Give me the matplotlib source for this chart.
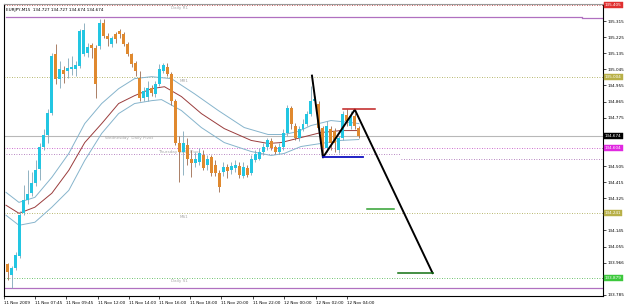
"""EURJPY M15 candle chart with pivot levels, MA envelope and drawn zigzag."""

import matplotlib
matplotlib.use("Agg")
import matplotlib.pyplot as plt
import numpy as np

font_size = 3.0
params = {
    "font.size": font_size,
    "font.family": "DejaVu Sans",
    "xtick.labelsize": font_size,
    "ytick.labelsize": font_size,
}
matplotlib.rcParams.update(params)

# Candles (bar index 0..88), prices
opens = [133.957, 133.896, 133.935, 134.002, 134.241, 134.314, 134.353, 134.408, 134.486, 134.609,
         134.681, 134.803, 135.132, 134.993, 135.043, 135.037, 135.048, 135.048, 135.065, 135.132,
         135.138, 135.182, 135.165, 135.176, 135.305, 135.232, 135.188, 135.243, 135.260, 135.243,
         135.188, 135.132, 135.082, 134.998, 134.887, 134.893, 134.943, 134.909, 134.965, 135.037,
         135.060, 135.021, 134.870, 134.631, 134.586, 134.620, 134.547, 134.520, 134.525, 134.564,
         134.508, 134.553, 134.508, 134.464, 134.469, 134.497, 134.481, 134.492, 134.503, 134.447,
         134.492, 134.464, 134.536, 134.547, 134.581, 134.614, 134.642, 134.609, 134.586, 134.609,
         134.687, 134.831, 134.731, 134.659, 134.714, 134.742, 134.798, 134.870, 134.854, 134.720,
         134.603, 134.709, 134.703, 134.592, 134.659, 134.792, 134.731, 134.787, 134.720]
highs = [133.963, 133.946, 134.024, 134.252, 134.397, 134.481, 134.469, 134.536, 134.631, 134.714,
         134.826, 135.138, 135.188, 135.093, 135.065, 135.110, 135.121, 135.093, 135.271, 135.305,
         135.193, 135.193, 135.182, 135.327, 135.327, 135.249, 135.232, 135.254, 135.271, 135.254,
         135.199, 135.138, 135.093, 135.037, 134.948, 134.982, 134.959, 134.982, 135.076, 135.082,
         135.082, 135.032, 134.881, 134.675, 134.703, 134.659, 134.592, 134.581, 134.603, 134.592,
         134.564, 134.564, 134.536, 134.481, 134.525, 134.514, 134.525, 134.536, 134.525, 134.525,
         134.508, 134.564, 134.592, 134.603, 134.631, 134.664, 134.659, 134.625, 134.631, 134.714,
         134.848, 134.842, 134.748, 134.731, 134.770, 134.815, 134.954, 134.898, 134.870, 134.731,
         134.759, 134.726, 134.720, 134.675, 134.815, 134.826, 134.815, 134.803, 134.731]
lows = [133.868, 133.824, 133.924, 133.991, 134.230, 134.291, 134.336, 134.392, 134.425, 134.592,
        134.636, 134.792, 134.965, 134.943, 134.971, 134.998, 135.015, 135.010, 135.054, 135.121,
        135.115, 135.110, 134.887, 135.160, 135.221, 135.176, 135.171, 135.193, 135.221, 135.176,
        135.121, 135.060, 135.010, 134.870, 134.870, 134.870, 134.898, 134.893, 134.954, 135.026,
        135.010, 134.848, 134.620, 134.414, 134.453, 134.508, 134.442, 134.497, 134.508, 134.481,
        134.481, 134.447, 134.447, 134.358, 134.447, 134.436, 134.458, 134.469, 134.436, 134.436,
        134.442, 134.453, 134.525, 134.536, 134.564, 134.592, 134.592, 134.570, 134.570, 134.592,
        134.675, 134.714, 134.648, 134.642, 134.698, 134.726, 134.787, 134.854, 134.709, 134.553,
        134.581, 134.592, 134.581, 134.575, 134.648, 134.731, 134.714, 134.714, 134.664]
closes = [133.913, 133.935, 134.007, 134.230, 134.314, 134.347, 134.408, 134.481, 134.609, 134.681,
          134.803, 135.121, 134.993, 135.048, 135.021, 135.054, 135.060, 135.071, 135.260, 135.266,
          135.171, 135.165, 134.965, 135.305, 135.232, 135.215, 135.221, 135.215, 135.243, 135.188,
          135.132, 135.076, 135.037, 134.887, 134.926, 134.943, 134.915, 134.965, 135.048, 135.071,
          135.021, 134.870, 134.631, 134.581, 134.631, 134.547, 134.520, 134.547, 134.575, 134.492,
          134.547, 134.464, 134.464, 134.386, 134.497, 134.475, 134.503, 134.508, 134.453, 134.497,
          134.453, 134.542, 134.570, 134.586, 134.614, 134.648, 134.603, 134.586, 134.609, 134.687,
          134.831, 134.737, 134.659, 134.714, 134.742, 134.798, 134.870, 134.881, 134.720, 134.603,
          134.731, 134.636, 134.631, 134.659, 134.798, 134.759, 134.787, 134.731, 134.674]

# Moving average envelope (bar index, price)
ma_bars = [-0.5, 2.75, 6.75, 11, 15.25, 19.25, 23.5, 27.75, 31.75, 36, 39.25, 43.5, 48.5,
           54.25, 61, 65.25, 68.5, 73.5, 78.5, 83.5, 88]
ma_mid = [134.286, 134.241, 134.275, 134.353, 134.481, 134.636, 134.742, 134.854, 134.898,
          134.937, 134.948, 134.893, 134.798, 134.714, 134.648, 134.631, 134.636, 134.664,
          134.692, 134.703, 134.703]
up_bars = [-0.5, 2.75, 6.75, 11, 15.25, 19.25, 23.5, 27.75, 31.75, 36, 41, 46.75, 52.75,
           59.25, 65.25, 69.25, 72.75, 76, 81, 86, 88]
ma_upper = [134.358, 134.302, 134.330, 134.442, 134.575, 134.742, 134.854, 134.937, 134.993,
            135.004, 134.993, 134.909, 134.815, 134.720, 134.681, 134.681, 134.698, 134.731,
            134.759, 134.748, 134.742]
lo_bars = [-0.5, 2.75, 6.75, 11, 15.25, 19.25, 23.5, 27.75, 31.75, 36, 38.5, 43.5, 48.5,
           54.25, 61, 66, 69.25, 73.5, 78.5, 83.5, 88]
ma_lower = [134.230, 134.174, 134.191, 134.275, 134.369, 134.536, 134.687, 134.798, 134.854,
            134.870, 134.876, 134.815, 134.720, 134.636, 134.586, 134.564, 134.575, 134.614,
            134.631, 134.648, 134.653]

# Hand-drawn zigzag and markers
zig_bars = [76.25, 79, 87, 106.5]
zig_prices = [135.010, 134.553, 134.820, 133.907]

# Horizontal levels
daily_r1 = 135.338
mr1 = 135.004
bid = 134.674
thu_pivot = 134.604
wed_pivot_a = 134.570
wed_pivot_b = 134.547
ms1 = 134.241
daily_s1 = 133.879
daily_s1_line = 133.823
top_level = 135.405

y_ticks = [135.315, 135.225, 135.135, 135.045, 134.955, 134.865, 134.775,
           134.505, 134.415, 134.325, 134.145, 134.055, 133.966, 133.785]
y_tick_labels = ["135.315", "135.225", "135.135", "135.045", "134.955", "134.865", "134.775",
                 "134.505", "134.415", "134.325", "134.145", "134.055", "133.966", "133.785"]
x_ticks = [-1, 6.75, 14.5, 22.5, 30.25, 38, 45.75, 53.5, 61.5, 69.25, 77.25, 85]
x_tick_labels = ["11 Nov 2009", "11 Nov 07:45", "11 Nov 09:45", "11 Nov 12:00", "11 Nov 14:00",
                 "11 Nov 16:00", "11 Nov 18:00", "11 Nov 20:00", "11 Nov 22:00",
                 "12 Nov 00:00", "12 Nov 02:00", "12 Nov 04:00"]

UP_COLOR = "#22C6E2"
DOWN_COLOR = "#E0892E"
LABEL_GRAY = "#A8A8A8"

fig = plt.figure(figsize=(6.25, 3.05), dpi=100)
ax = fig.add_axes([0.0064, 0.0295, 0.9584, 0.9574])
ax.set_xlim(-0.5, 149.25)
ax.set_ylim(133.779, 135.41)

# Level lines
ax.axhline(top_level, color="#C03030", lw=0.6, ls=(0, (1, 2)))
ax.plot([-0.5, 144], [daily_r1, daily_r1], color="#B070C0", lw=0.9)
ax.plot([144, 149.25], [daily_r1 - 0.006, daily_r1 - 0.006], color="#B070C0", lw=0.9)
ax.axhline(mr1, color="#A0A040", lw=0.6, ls=(0, (1, 2)))
ax.axhline(bid, color="#B8B8B8", lw=0.8)
ax.axhline(thu_pivot, color="#C040C0", lw=0.6, ls=(0, (1, 2)))
ax.plot([-0.5, 98.5], [wed_pivot_a, wed_pivot_a], color="#A060B0", lw=0.6, ls=(0, (1, 2)))
ax.plot([98.5, 149.25], [wed_pivot_b, wed_pivot_b], color="#A060B0", lw=0.6, ls=(0, (1, 2)))
ax.axhline(ms1, color="#A0A040", lw=0.6, ls=(0, (1, 2)))
ax.axhline(daily_s1, color="#40B040", lw=0.6, ls=(0, (1, 2)))
ax.axhline(daily_s1_line, color="#B070C0", lw=0.9)

# Level captions
ax.text(41, 135.388, "Daily R1", color=LABEL_GRAY, va="center")
ax.text(43, 134.982, "MR1", color=LABEL_GRAY, va="center")
ax.text(24.25, 134.659, "Wednesday  Daily Pivot", color=LABEL_GRAY, va="center")
ax.text(37.75, 134.586, "Thursday Daily Pivot", color=LABEL_GRAY, va="center")
ax.text(43, 134.219, "MS1", color=LABEL_GRAY, va="center")
ax.text(41, 133.862, "Daily S1", color=LABEL_GRAY, va="center")

# MA envelope
ax.plot(up_bars, ma_upper, color="#86B4CC", lw=0.7)
ax.plot(ma_bars, ma_mid, color="#9A3C3C", lw=0.7)
ax.plot(lo_bars, ma_lower, color="#86B4CC", lw=0.7)

# Candles
idx = np.arange(len(opens))
o = np.array(opens)
c = np.array(closes)
rising = c >= o
body_colors = np.where(rising, UP_COLOR, DOWN_COLOR)
wick_colors = np.where(rising, "#7FA6B8", "#9C6A4E")
ax.vlines(idx, lows, highs, colors=wick_colors, lw=0.6, zorder=3)
heights = np.where(np.abs(c - o) < 0.003, 0.003, c - o)
ax.bar(idx, heights, bottom=o, width=0.75, color=body_colors, linewidth=0, zorder=4)

# Drawn objects
ax.plot(zig_bars, zig_prices, color="black", lw=1.4, zorder=5)
ax.plot([84, 92], [134.826, 134.826], color="#C02020", lw=1.1, zorder=5)
ax.plot([79, 89], [134.553, 134.553], color="#1010C0", lw=1.3, zorder=5)
ax.plot([90, 96.75], [134.263, 134.263], color="#30A030", lw=1.1, zorder=5)
ax.plot([97.75, 106.5], [133.907, 133.907], color="#107010", lw=1.1, zorder=5)

# Axes styling
ax.yaxis.tick_right()
ax.set_yticks(y_ticks)
ax.set_yticklabels(y_tick_labels)
ax.tick_params(axis="y", length=2, width=0.5, pad=1, colors="black")
ax.set_xticks(x_ticks)
ax.set_xticklabels(x_tick_labels, ha="left")
ax.tick_params(axis="x", length=2.5, width=0.5, pad=1)
for spine in ax.spines.values():
    spine.set_linewidth(0.8)
    spine.set_color("black")
ax.spines["top"].set_color("#999999")

# Price boxes on the right axis
boxes = [(top_level, "135.405", "#E03030", "white"),
         (mr1, "135.004", "#B8B048", "white"),
         (bid, "134.674", "black", "white"),
         (thu_pivot, "134.604", "#E028E0", "white"),
         (ms1, "134.241", "#B8B048", "white"),
         (daily_s1, "133.879", "#3CC83C", "white")]
for price, label, face, fg in boxes:
    ax.annotate(label, xy=(1.0, price), xycoords=("axes fraction", "data"),
                xytext=(1.5, 0), textcoords="offset points", va="center", ha="left",
                color=fg, fontsize=font_size,
                bbox=dict(boxstyle="square,pad=0.2", fc=face, ec=face, lw=0.3))

# Chart caption
ax.text(0.003, 0.985, "EURJPY,M15  134.727 134.727 134.674 134.674",
        transform=ax.transAxes, va="top", ha="left", color="black")

fig.savefig("out.png", dpi=100, facecolor="white")
